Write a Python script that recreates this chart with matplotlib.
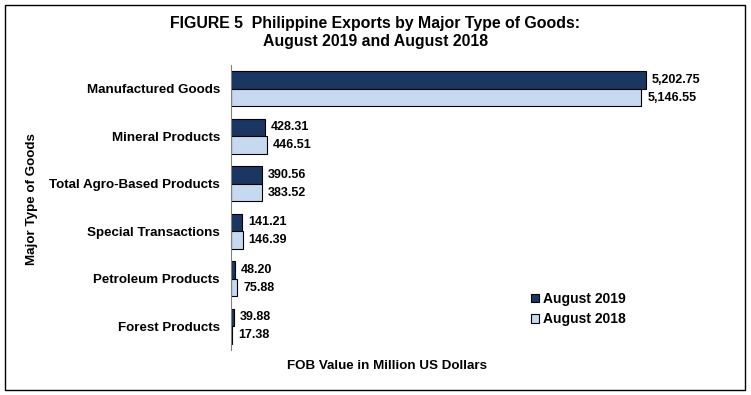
import numpy as np
import matplotlib
matplotlib.use("Agg")
import matplotlib.pyplot as plt
from matplotlib.patches import Rectangle

categories = ["Manufactured Goods", "Mineral Products", "Total Agro-Based Products",
              "Special Transactions", "Petroleum Products", "Forest Products"]
aug_2019 = [5202.75, 428.31, 390.56, 141.21, 48.20, 39.88]
aug_2018 = [5146.55, 446.51, 383.52, 146.39, 75.88, 17.38]

plt.rcParams["font.family"] = ["Liberation Sans", "DejaVu Sans"]
plt.rcParams["font.weight"] = "bold"

fig = plt.figure(figsize=(7.51, 3.95), dpi=100)
ax = fig.add_axes([0.3076, 0.114, 0.637, 0.7215])

y = np.arange(len(categories))
h = 0.37
b1 = ax.barh(y - h / 2, aug_2019, height=h, color="#1b3660", edgecolor="black",
             linewidth=0.8, label="August 2019")
b2 = ax.barh(y + h / 2, aug_2018, height=h, color="#c6d9f0", edgecolor="black",
             linewidth=0.8, label="August 2018")

for bars, vals in [(b1, aug_2019), (b2, aug_2018)]:
    for bar, v in zip(bars, vals):
        ax.text(v + 75, bar.get_y() + bar.get_height() / 2, f"{v:,.2f}",
                va="center", ha="left", fontsize=9, fontweight="bold")

ax.set_yticks(y)
ax.set_yticklabels(categories, fontsize=9.6, fontweight="bold")
ax.set_ylim(len(categories) - 0.5, -0.5)
ax.set_xlim(0, 6000)
ax.set_xticks([])
ax.tick_params(axis="y", length=0, pad=8)
for s in ["top", "right", "bottom"]:
    ax.spines[s].set_visible(False)
ax.spines["left"].set_color("#808080")

fig.text(0.515, 0.073, "FOB Value in Million US Dollars", ha="center", va="center",
         fontsize=9.6, fontweight="bold")
fig.text(0.042, 0.495, "Major Type of Goods", rotation=90, ha="center", va="center",
         fontsize=9.6, fontweight="bold")

fig.text(0.5, 0.96, "FIGURE 5  Philippine Exports by Major Type of Goods:\nAugust 2019 and August 2018",
         ha="center", va="top", fontsize=11.4, fontweight="bold", linespacing=1.25)

ax.legend(loc="lower left", bbox_to_anchor=(0.6, 0.04), frameon=False,
          handlelength=0.6, handleheight=0.6, handletextpad=0.3, labelspacing=0.45,
          prop={"weight": "bold", "size": 10})

fig.patches.append(Rectangle((5 / 751, 5 / 395), 740 / 751, 385 / 395, transform=fig.transFigure,
                             fill=False, edgecolor="black", linewidth=1))

fig.savefig("out.png", dpi=100)
